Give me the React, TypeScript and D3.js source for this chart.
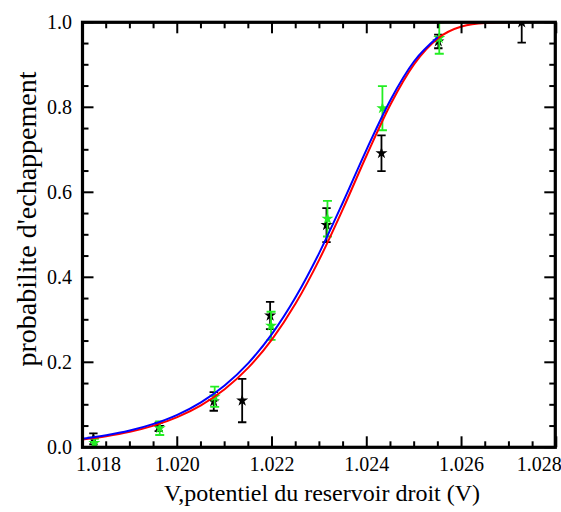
import React from "react";
import * as d3 from "d3";

// Black data series (star markers with error bars)
const blackX = [1.01823, 1.01961, 1.02077, 1.02137, 1.02196, 1.02315, 1.02431, 1.02551, 1.02727];
const blackY = [0.02, 0.048, 0.108, 0.11, 0.31, 0.523, 0.692, 0.955, 1.0];
const blackErr = [0.013, 0.01, 0.022, 0.051, 0.032, 0.04, 0.042, 0.016, 0.048];

// Green data series
const greenX = [1.01825, 1.01963, 1.02079, 1.02198, 1.02317, 1.02433, 1.02553];
const greenY = [0.01, 0.045, 0.119, 0.286, 0.538, 0.798, 0.963];
const greenErr = [0.01, 0.016, 0.024, 0.033, 0.042, 0.052, 0.037];

// Fit curves
const blueX = [1.018, 1.0185, 1.019, 1.0195, 1.02, 1.0205, 1.021, 1.0215, 1.022, 1.0225, 1.023, 1.0235, 1.024, 1.0245, 1.025, 1.0255];
const blueY = [0.0202, 0.0283, 0.0395, 0.0551, 0.0765, 0.1059, 0.1455, 0.1982, 0.2668, 0.3534, 0.4581, 0.5772, 0.7017, 0.8173, 0.9083, 0.9652];
const redX = [1.018, 1.0185, 1.019, 1.0195, 1.02, 1.0205, 1.021, 1.0215, 1.022, 1.0225, 1.023, 1.0235, 1.024, 1.0245, 1.025, 1.0255, 1.026, 1.0265, 1.027, 1.02725];
const redY = [0.0184, 0.0259, 0.0363, 0.0509, 0.0711, 0.0989, 0.1367, 0.1875, 0.2539, 0.3387, 0.4423, 0.5615, 0.6878, 0.8067, 0.9017, 0.9622, 0.9902, 0.9985, 0.9999, 1.0];

const xMajor = [1.018, 1.02, 1.022, 1.024, 1.026, 1.028];
const xLabels = ["1.018", "1.020", "1.022", "1.024", "1.026", "1.028"];
const yMajor = [0, 0.2, 0.4, 0.6, 0.8, 1.0];
const yLabels = ["0.0", "0.2", "0.4", "0.6", "0.8", "1.0"];

const W = 561, H = 512;
const L = 82.5, R = 556.3, T = 22.3, B = 447.3;
const FONT = '"Liberation Serif", serif';

export default function App() {
  const x = d3.scaleLinear().domain([1.018, 1.028]).range([L, R]);
  const y = d3.scaleLinear().domain([0, 1]).range([B, T]);
  const frameR = 555.3;

  const xMinor = d3.range(0, 21).map((i) => 1.018 + i * 0.0005).filter((v, i) => i % 4 !== 0);
  const yMinor = d3.range(0, 21).map((i) => i * 0.05).filter((v, i) => i % 4 !== 0);

  const line = d3.line<[number, number]>().x((d) => x(d[0])).y((d) => y(d[1])).curve(d3.curveMonotoneX);
  const blue = line(blueX.map((v, i) => [v, blueY[i]]) as [number, number][]) || "";
  const red = line(redX.map((v, i) => [v, redY[i]]) as [number, number][]) || "";

  const star = d3.symbol().type(d3.symbolStar).size(45)() || "";

  const errBars = (xs: number[], ys: number[], es: number[], color: string, cap: number) =>
    xs.map((xv, i) => {
      const cx = x(xv);
      const y1 = y(Math.min(1, ys[i] + es[i]));
      const y2 = y(ys[i] - es[i]);
      return (
        <g key={i} stroke={color} strokeWidth={1.8}>
          <line x1={cx} x2={cx} y1={y1} y2={y2} />
          <line x1={cx - cap} x2={cx + cap} y1={y1} y2={y1} />
          <line x1={cx - cap} x2={cx + cap} y1={y2} y2={y2} />
          <path d={star} transform={`translate(${cx},${y(ys[i])})`} fill={color} stroke="none" />
        </g>
      );
    });

  const majLen = 11, minLen = 6;

  return (
    <svg width={W} height={H} style={{ position: "absolute", left: 0, top: 0 }}>
      <rect width={W} height={H} fill="white" />
      <defs>
        <clipPath id="plot">
          <rect x={L} y={T - 1} width={frameR - L} height={B - T + 1} />
        </clipPath>
      </defs>
      <g clipPath="url(#plot)">
        {errBars(blackX, blackY, blackErr, "#000000", 4.2)}
        {errBars(greenX, greenY, greenErr, "#22ee22", 4.5)}
        <path d={red} fill="none" stroke="#ff0000" strokeWidth={2} />
        <path d={blue} fill="none" stroke="#0000ff" strokeWidth={2} />
      </g>
      <g stroke="#000" strokeWidth={2}>
        {xMajor.map((v, i) => (
          <g key={"xm" + i}>
            <line x1={x(v)} x2={x(v)} y1={B} y2={B - majLen} />
            <line x1={x(v)} x2={x(v)} y1={T} y2={T + majLen} />
          </g>
        ))}
        {xMinor.map((v, i) => (
          <g key={"xn" + i}>
            <line x1={x(v)} x2={x(v)} y1={B} y2={B - minLen} />
            <line x1={x(v)} x2={x(v)} y1={T} y2={T + minLen} />
          </g>
        ))}
        {yMajor.map((v, i) => (
          <g key={"ym" + i}>
            <line x1={L} x2={L + majLen} y1={y(v)} y2={y(v)} />
            <line x1={frameR} x2={frameR - majLen} y1={y(v)} y2={y(v)} />
          </g>
        ))}
        {yMinor.map((v, i) => (
          <g key={"yn" + i}>
            <line x1={L} x2={L + minLen} y1={y(v)} y2={y(v)} />
            <line x1={frameR} x2={frameR - minLen} y1={y(v)} y2={y(v)} />
          </g>
        ))}
      </g>
      <rect x={L} y={T} width={frameR - L} height={B - T} fill="none" stroke="#000" strokeWidth={3.2} />
      {xMajor.map((v, i) => {
        let px = x(v);
        if (i === 0) px += 16;
        if (i === xMajor.length - 1) px -= 17;
        return (
          <text key={"xl" + i} x={px} y={471} textAnchor="middle" fontSize={20} style={{ fontFamily: FONT }}>
            {xLabels[i]}
          </text>
        );
      })}
      {yMajor.map((v, i) => (
        <text key={"yl" + i} x={72} y={y(v) + 7} textAnchor="end" fontSize={20} style={{ fontFamily: FONT }}>
          {yLabels[i]}
        </text>
      ))}
      <text x={322} y={501} textAnchor="middle" fontSize={24} style={{ fontFamily: FONT }}>
        V,potentiel du reservoir droit (V)
      </text>
      <text transform="translate(36,219) rotate(-90)" textAnchor="middle" fontSize={28} style={{ fontFamily: FONT }}>
        probabilite d'echappement
      </text>
    </svg>
  );
}
